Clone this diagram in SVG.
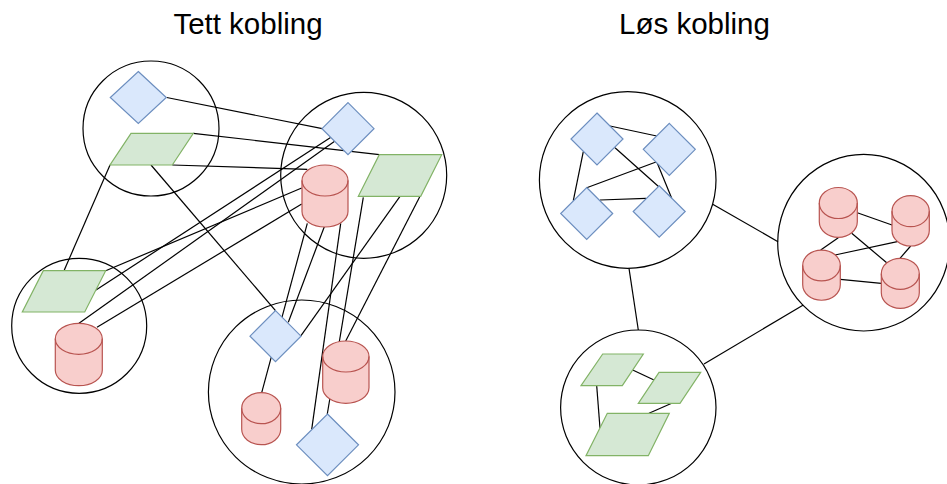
<svg xmlns="http://www.w3.org/2000/svg" width="947" height="484" viewBox="0 0 947 484">
<style>
.title{font-family:"Liberation Sans",Arial,sans-serif;font-size:29.5px;fill:#000;text-anchor:middle}
.ring{fill:none;stroke:#000;stroke-width:1.2}
.edge line{stroke:#000;stroke-width:1.2}
.blue{fill:#dae8fc;stroke:#6c8ebf;stroke-width:1.2}
.green{fill:#d5e8d4;stroke:#82b366;stroke-width:1.2}
.red{fill:#f8cecc;stroke:#b85450;stroke-width:1.2}
.rim{fill:none;stroke:#b85450;stroke-width:1.2}
</style>
<rect width="947" height="484" fill="#fff"/>
<text class="title" x="248" y="33.5">Tett kobling</text>
<text class="title" x="694.5" y="33.5">Løs kobling</text>

<g id="group-circles">
<ellipse id="k1" class="ring" cx="151" cy="128.5" rx="68" ry="67.5"/>
<ellipse id="k2" class="ring" cx="363.7" cy="175.3" rx="83" ry="83"/>
<ellipse id="k3" class="ring" cx="79.2" cy="325.8" rx="67.5" ry="67.5"/>
<ellipse id="k4" class="ring" cx="301.7" cy="392" rx="93.3" ry="92"/>
<ellipse id="k5" class="ring" cx="627.7" cy="180" rx="88.3" ry="88.3"/>
<ellipse id="k6" class="ring" cx="863.7" cy="242.7" rx="86" ry="88.3"/>
<ellipse id="k7" class="ring" cx="638.3" cy="407.5" rx="77.7" ry="77.5"/>
</g>

<g id="connectors" class="edge">
<line x1="166.7" y1="97.5" x2="322.3" y2="128.7"/>
<line x1="193.3" y1="133.3" x2="379.3" y2="154.7"/>
<line x1="172.3" y1="165" x2="307.3" y2="169.3"/>
<line x1="110" y1="165" x2="64" y2="270.7"/>
<line x1="151" y1="165" x2="275.5" y2="310.7"/>
<line x1="105.7" y1="270.7" x2="301.7" y2="188"/>
<line x1="96" y1="290" x2="331.7" y2="136.7"/>
<line x1="79" y1="323.3" x2="335" y2="141"/>
<line x1="97" y1="327.3" x2="301.7" y2="204"/>
<line x1="307.3" y1="223.3" x2="261.7" y2="392.7"/>
<line x1="324.3" y1="226.7" x2="288.3" y2="322.3"/>
<line x1="340.7" y1="223.3" x2="311.7" y2="429.3"/>
<line x1="400" y1="196.3" x2="301" y2="335.7"/>
<line x1="363.3" y1="197.3" x2="327.3" y2="414"/>
<line x1="420" y1="196.3" x2="345.7" y2="341"/>

<line x1="610" y1="126" x2="656.7" y2="136"/>
<line x1="615" y1="147.7" x2="671.7" y2="198.3"/>
<line x1="583.3" y1="151.7" x2="573.3" y2="200.7"/>
<line x1="656.7" y1="161.7" x2="586.7" y2="187.7"/>
<line x1="656.7" y1="161.7" x2="671.7" y2="198.3"/>
<line x1="600" y1="200" x2="646" y2="198.3"/>
<line x1="712.7" y1="204.3" x2="778" y2="241.7"/>
<line x1="857.3" y1="212.7" x2="892" y2="225"/>
<line x1="838.3" y1="237.7" x2="820.7" y2="250"/>
<line x1="851.7" y1="233.3" x2="886.7" y2="262.7"/>
<line x1="897.3" y1="241.7" x2="835" y2="255"/>
<line x1="910.7" y1="246" x2="900" y2="258.3"/>
<line x1="840.3" y1="279.3" x2="881.3" y2="283.3"/>
<line x1="803.3" y1="305" x2="704" y2="364"/>
<line x1="629" y1="268.3" x2="638.3" y2="330"/>
<line x1="632.7" y1="370" x2="654" y2="380"/>
<line x1="596.7" y1="385.7" x2="600" y2="428.3"/>
<line x1="671.7" y1="403.3" x2="649" y2="413.3"/>
</g>

<g id="d1"><polygon class="blue" points="138.3,71.5 166.3,97.5 138.3,123.5 110.3,97.5"/></g>
<g id="p1"><polygon class="green" points="131,133.3 193.3,133.3 172.3,165 110,165"/></g>
<g id="d2"><polygon class="blue" points="348,102.7 374,128.7 348,154.7 322,128.7"/></g>
<g id="c1"><path class="red" d="M302,180.5 A23,15.5 0 0 1 348,180.5 L348,211.5 A23,15.5 0 0 1 302,211.5 Z"/><path class="rim" d="M302,180.5 A23,15.5 0 0 0 348,180.5"/></g>
<g id="p2"><polygon class="green" points="379.3,154.7 441.7,154.7 420.7,196.3 358.3,196.3"/></g>
<g id="p3"><polygon class="green" points="43.3,270.7 105.7,270.7 84.7,312 22.3,312"/></g>
<g id="c3"><path class="red" d="M55.3,338.8 A23.5,15.5 0 0 1 102.3,338.8 L102.3,370.2 A23.5,15.5 0 0 1 55.3,370.2 Z"/><path class="rim" d="M55.3,338.8 A23.5,15.5 0 0 0 102.3,338.8"/></g>
<g id="d4"><polygon class="blue" points="275.5,310.7 301,336.2 275.5,361.7 250,336.2"/></g>
<g id="c4"><path class="red" d="M322.7,356.5 A23.15,15.5 0 0 1 369,356.5 L369,387.8 A23.15,15.5 0 0 1 322.7,387.8 Z"/><path class="rim" d="M322.7,356.5 A23.15,15.5 0 0 0 369,356.5"/></g>
<g id="c5"><path class="red" d="M241.7,408.2 A19.5,15.5 0 0 1 280.7,408.2 L280.7,429.2 A19.5,15.5 0 0 1 241.7,429.2 Z"/><path class="rim" d="M241.7,408.2 A19.5,15.5 0 0 0 280.7,408.2"/></g>
<g id="d5"><polygon class="blue" points="327.5,414 358.5,444.8 327.5,475.7 296.5,444.8"/></g>

<g id="r1"><polygon class="blue" points="597,113 623,139 597,165 571,139"/></g>
<g id="r2"><polygon class="blue" points="669.3,123.3 695.3,149.3 669.3,175.3 643.3,149.3"/></g>
<g id="r3"><polygon class="blue" points="586.7,187.5 612.7,213.5 586.7,239.5 560.7,213.5"/></g>
<g id="r4"><polygon class="blue" points="659.2,185.8 685.2,211.5 659.2,237.2 633.2,211.5"/></g>

<g id="s1"><path class="red" d="M819.3,203 A19,15.5 0 0 1 857.3,203 L857.3,221.8 A19,15.5 0 0 1 819.3,221.8 Z"/><path class="rim" d="M819.3,203 A19,15.5 0 0 0 857.3,203"/></g>
<g id="s2"><path class="red" d="M892,211.2 A18.65,15.5 0 0 1 929.3,211.2 L929.3,230.5 A18.65,15.5 0 0 1 892,230.5 Z"/><path class="rim" d="M892,211.2 A18.65,15.5 0 0 0 929.3,211.2"/></g>
<g id="s3"><path class="red" d="M802.7,265.5 A18.8,15.5 0 0 1 840.3,265.5 L840.3,284.8 A18.8,15.5 0 0 1 802.7,284.8 Z"/><path class="rim" d="M802.7,265.5 A18.8,15.5 0 0 0 840.3,265.5"/></g>
<g id="s4"><path class="red" d="M881.3,273.8 A19,15.5 0 0 1 919.3,273.8 L919.3,292.8 A19,15.5 0 0 1 881.3,292.8 Z"/><path class="rim" d="M881.3,273.8 A19,15.5 0 0 0 919.3,273.8"/></g>

<g id="q1"><polygon class="green" points="602.7,354 643.3,354 622.3,385.7 581,385.7"/></g>
<g id="q2"><polygon class="green" points="659,372.3 700.7,372.3 680,403.3 638.3,403.3"/></g>
<g id="q3"><polygon class="green" points="607.3,413.3 669.3,413.3 648.3,455.7 586,455.7"/></g>
</svg>
